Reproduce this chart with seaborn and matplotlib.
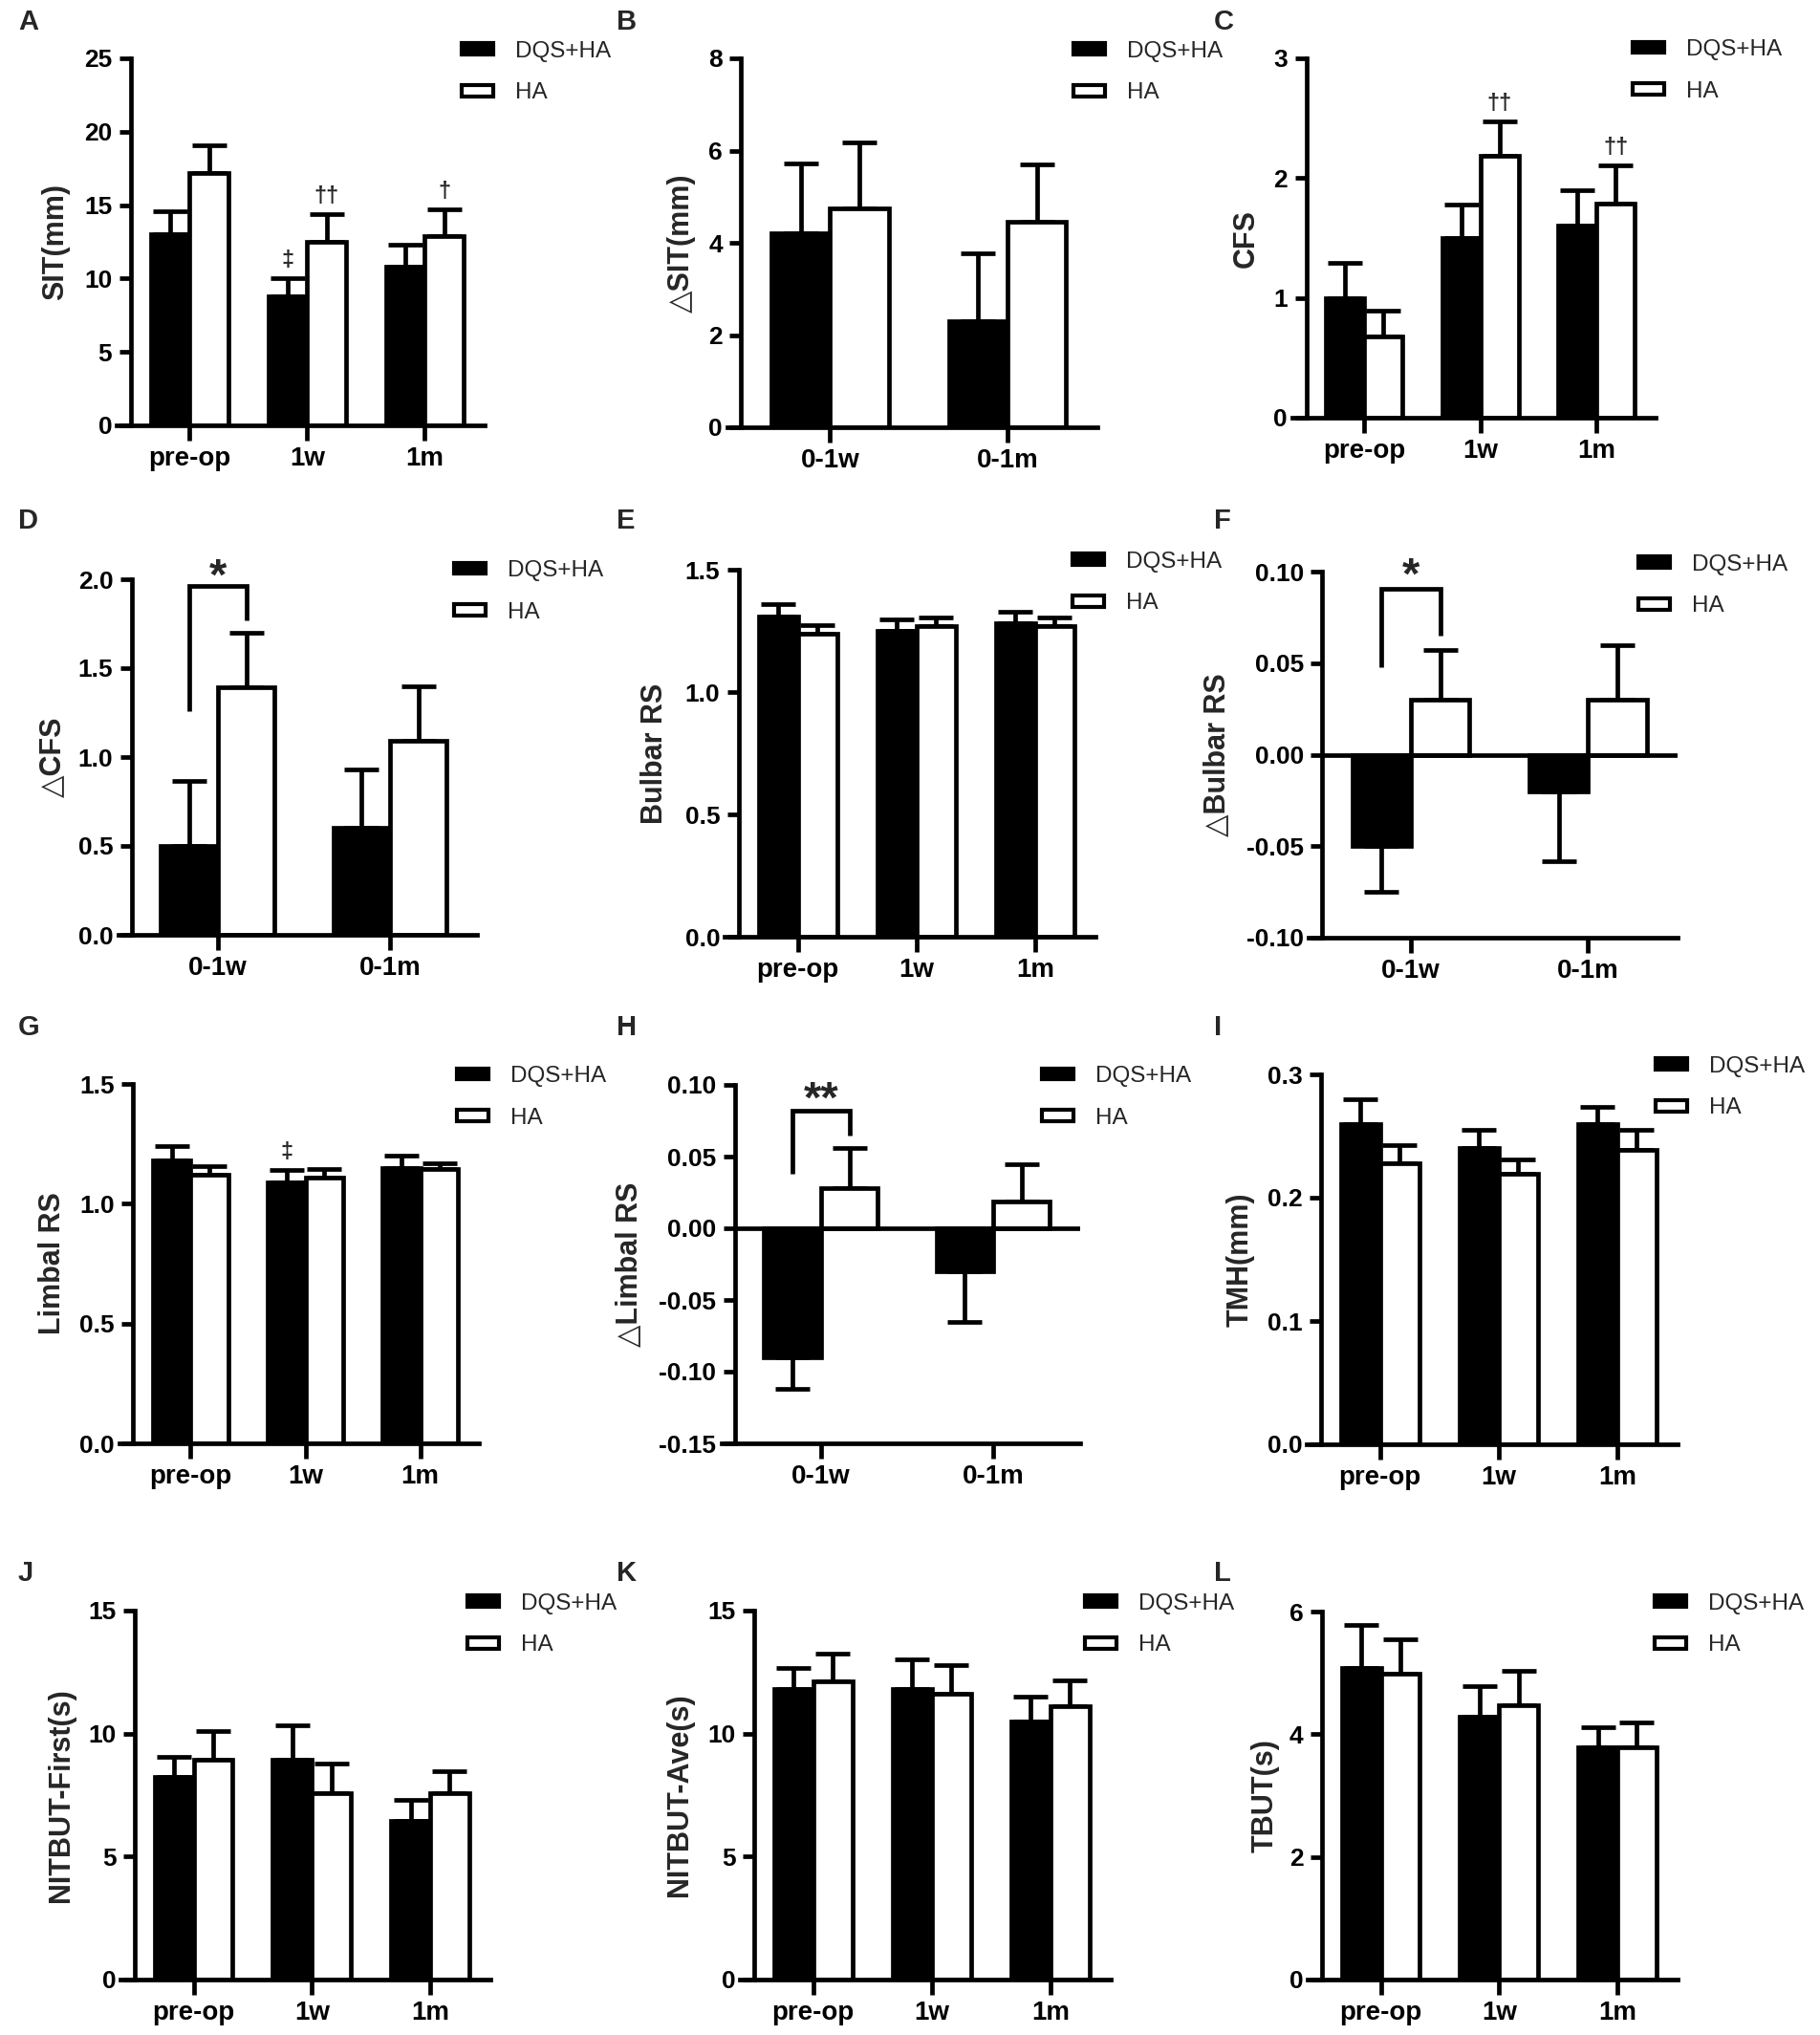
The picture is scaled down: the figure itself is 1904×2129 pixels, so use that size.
import numpy as np
import pandas as pd
import matplotlib
matplotlib.use("Agg")
import matplotlib.pyplot as plt
from matplotlib.patches import Patch
import seaborn as sns

# ---------------- data ----------------
groups = ["DQS+HA", "HA"]
times = ["pre-op", "1w", "1m"]
deltas = ["0-1w", "0-1m"]

sit_dqs = [13.0, 8.8, 10.8];      sit_dqs_err = [1.6, 1.2, 1.5]
sit_ha = [17.2, 12.5, 12.9];      sit_ha_err = [1.9, 1.9, 1.8]
dsit_dqs = [4.2, 2.3];            dsit_dqs_err = [1.53, 1.47]
dsit_ha = [4.75, 4.45];           dsit_ha_err = [1.43, 1.24]
cfs_dqs = [1.0, 1.5, 1.6];        cfs_dqs_err = [0.29, 0.28, 0.30]
cfs_ha = [0.68, 2.19, 1.79];      cfs_ha_err = [0.21, 0.28, 0.32]
dcfs_dqs = [0.5, 0.6];            dcfs_dqs_err = [0.365, 0.33]
dcfs_ha = [1.39, 1.09];           dcfs_ha_err = [0.31, 0.31]
bulbar_dqs = [1.31, 1.25, 1.28];  bulbar_dqs_err = [0.048, 0.048, 0.047]
bulbar_ha = [1.24, 1.27, 1.27];   bulbar_ha_err = [0.033, 0.033, 0.033]
dbulbar_dqs = [-0.05, -0.02];     dbulbar_dqs_err = [0.025, 0.038]
dbulbar_ha = [0.03, 0.03];        dbulbar_ha_err = [0.027, 0.030]
limbal_dqs = [1.18, 1.09, 1.15];  limbal_dqs_err = [0.06, 0.05, 0.05]
limbal_ha = [1.12, 1.11, 1.145];  limbal_ha_err = [0.035, 0.035, 0.025]
dlimbal_dqs = [-0.09, -0.03];     dlimbal_dqs_err = [0.022, 0.035]
dlimbal_ha = [0.028, 0.019];      dlimbal_ha_err = [0.028, 0.026]
tmh_dqs = [0.26, 0.24, 0.26];     tmh_dqs_err = [0.02, 0.015, 0.014]
tmh_ha = [0.228, 0.219, 0.239];   tmh_ha_err = [0.015, 0.012, 0.016]
nfirst_dqs = [8.25, 8.92, 6.45];  nfirst_dqs_err = [0.82, 1.40, 0.85]
nfirst_ha = [8.92, 7.59, 7.59];   nfirst_ha_err = [1.18, 1.19, 0.89]
nave_dqs = [11.8, 11.8, 10.48];   nave_dqs_err = [0.85, 1.2, 1.02]
nave_ha = [12.13, 11.63, 11.1];   nave_ha_err = [1.14, 1.14, 1.05]
tbut_dqs = [5.08, 4.29, 3.78];    tbut_dqs_err = [0.70, 0.49, 0.33]
tbut_ha = [4.98, 4.48, 3.78];     tbut_ha_err = [0.57, 0.55, 0.42]

ticks_sit = [0, 5, 10, 15, 20, 25]
ticks_dsit = [0, 2, 4, 6, 8]
ticks_cfs = [0, 1, 2, 3]
ticks_dcfs = [0.0, 0.5, 1.0, 1.5, 2.0]
ticks_rs = [0.0, 0.5, 1.0, 1.5]
ticks_drs_b = [-0.10, -0.05, 0.00, 0.05, 0.10]
ticks_drs_l = [-0.15, -0.10, -0.05, 0.00, 0.05, 0.10]
ticks_tmh = [0.0, 0.1, 0.2, 0.3]
ticks_nitbut = [0, 5, 10, 15]
ticks_tbut = [0, 2, 4, 6]

# ---------------- style ----------------
sns.set_style("ticks")
plt.rcParams["font.family"] = ["Liberation Sans", "DejaVu Sans"]

W, H = 1904, 2129
fig = plt.figure(figsize=(W / 100, H / 100), dpi=100)
LW = 3.4
colors = {"DQS+HA": "black", "HA": "white"}

colx = [19, 645, 1270]
rowy = [23, 545, 1075, 1646]

panels = [
    dict(L="A", lp=(colx[0], rowy[0]), rect=(122, 507, 61, 445), cats=times,
         b=sit_dqs, be=sit_dqs_err, w=sit_ha, we=sit_ha_err, ylim=(0, 25), ticks=ticks_sit, fmt="{:.0f}",
         ylabel="SIT(mm)", ylx=58, leg=(483, 75.5),
         marks=[(1, 0, "‡"), (1, 1, "††"), (2, 1, "†")]),
    dict(L="B", lp=(colx[1], rowy[0]), rect=(761, 1148, 61, 447), cats=deltas,
         b=dsit_dqs, be=dsit_dqs_err, w=dsit_ha, we=dsit_ha_err, ylim=(0, 8), ticks=ticks_dsit, fmt="{:.0f}",
         ylabel="△SIT(mm)", ylx=713, leg=(1123, 75.5)),
    dict(L="C", lp=(colx[2], rowy[0]), rect=(1352, 1732, 61, 437), cats=times,
         b=cfs_dqs, be=cfs_dqs_err, w=cfs_ha, we=cfs_ha_err, ylim=(0, 3), ticks=ticks_cfs, fmt="{:.0f}",
         ylabel="CFS", ylx=1304, leg=(1708, 74),
         marks=[(1, 1, "††"), (2, 1, "††")]),
    dict(L="D", lp=(colx[0], rowy[1]), rect=(124, 499, 606, 978), cats=deltas,
         b=dcfs_dqs, be=dcfs_dqs_err, w=dcfs_ha, we=dcfs_ha_err, ylim=(0, 2.0), ticks=ticks_dcfs, fmt="{:.1f}",
         ylabel="△CFS", ylx=55, leg=(475, 619),
         bracket=(1.257, 1.96, 1.77, 2.07, "*")),
    dict(L="E", lp=(colx[1], rowy[1]), rect=(758, 1146, 596, 980), cats=times,
         b=bulbar_dqs, be=bulbar_dqs_err, w=bulbar_ha, we=bulbar_ha_err, ylim=(0, 1.5), ticks=ticks_rs, fmt="{:.1f}",
         ylabel="Bulbar RS", ylx=685, leg=(1122, 609.5)),
    dict(L="F", lp=(colx[2], rowy[1]), rect=(1369, 1755, 598, 981), cats=deltas,
         b=dbulbar_dqs, be=dbulbar_dqs_err, w=dbulbar_ha, we=dbulbar_ha_err, ylim=(-0.10, 0.10), ticks=ticks_drs_b, fmt="{:.2f}",
         ylabel="△Bulbar RS", ylx=1273, leg=(1714, 612.5),
         bracket=(0.048, 0.0905, 0.065, 0.1029, "*")),
    dict(L="G", lp=(colx[0], rowy[2]), rect=(125, 501, 1134, 1510), cats=times,
         b=limbal_dqs, be=limbal_dqs_err, w=limbal_ha, we=limbal_ha_err, ylim=(0, 1.5), ticks=ticks_rs, fmt="{:.1f}",
         ylabel="Limbal RS", ylx=55, leg=(478, 1148),
         marks=[(1, 0, "‡")]),
    dict(L="H", lp=(colx[1], rowy[2]), rect=(755, 1130, 1135, 1510), cats=deltas,
         b=dlimbal_dqs, be=dlimbal_dqs_err, w=dlimbal_ha, we=dlimbal_ha_err, ylim=(-0.15, 0.10), ticks=ticks_drs_l, fmt="{:.2f}",
         ylabel="△Limbal RS", ylx=658, leg=(1090, 1148),
         bracket=(0.0378, 0.082, 0.065, 0.0966, "**")),
    dict(L="I", lp=(colx[2], rowy[2]), rect=(1367, 1755, 1124, 1511), cats=times,
         b=tmh_dqs, be=tmh_dqs_err, w=tmh_ha, we=tmh_ha_err, ylim=(0, 0.3), ticks=ticks_tmh, fmt="{:.1f}",
         ylabel="TMH(mm)", ylx=1298, leg=(1732, 1137.5)),
    dict(L="J", lp=(colx[0], rowy[3]), rect=(126, 513, 1685, 2071), cats=times,
         b=nfirst_dqs, be=nfirst_dqs_err, w=nfirst_ha, we=nfirst_ha_err, ylim=(0, 15), ticks=ticks_nitbut, fmt="{:.0f}",
         ylabel="NITBUT-First(s)", ylx=64, leg=(489, 1699.5)),
    dict(L="K", lp=(colx[1], rowy[3]), rect=(774, 1162, 1685, 2071), cats=times,
         b=nave_dqs, be=nave_dqs_err, w=nave_ha, we=nave_ha_err, ylim=(0, 15), ticks=ticks_nitbut, fmt="{:.0f}",
         ylabel="NITBUT-Ave(s)", ylx=711, leg=(1135, 1699.5)),
    dict(L="L", lp=(colx[2], rowy[3]), rect=(1368, 1755, 1686, 2071), cats=times,
         b=tbut_dqs, be=tbut_dqs_err, w=tbut_ha, we=tbut_ha_err, ylim=(0, 6), ticks=ticks_tbut, fmt="{:.0f}",
         ylabel="TBUT(s)", ylx=1324, leg=(1731, 1699.5)),
]


def draw(p):
    l, r, t, b = p["rect"]
    ax = fig.add_axes([l / W, 1 - b / H, (r - l) / W, (b - t) / H])
    cats = p["cats"]
    n = len(cats)
    df = pd.DataFrame({
        "time": list(cats) * 2,
        "group": [groups[0]] * n + [groups[1]] * n,
        "value": list(p["b"]) + list(p["w"]),
    })
    sns.barplot(data=df, x="time", y="value", hue="group", order=cats, hue_order=groups,
                palette=colors, saturation=1, width=0.66, errorbar=None,
                edgecolor="black", linewidth=LW, legend=False, ax=ax, zorder=2)

    # error bars (one-sided, away from zero)
    centers = []
    for gi, (vals, errs) in enumerate([(p["b"], p["be"]), (p["w"], p["we"])]):
        cont = ax.containers[gi]
        xs = [bar.get_x() + bar.get_width() / 2 for bar in cont]
        centers.append(xs)
        vals = np.asarray(vals, float)
        errs = np.asarray(errs, float)
        lower = np.where(vals < 0, errs, 0)
        upper = np.where(vals >= 0, errs, 0)
        ax.errorbar(xs, vals, yerr=[lower, upper], fmt="none", ecolor="black",
                    elinewidth=LW, capsize=13, capthick=LW, zorder=1)

    if n == 3:
        xlim = (-0.62, 2.51)
    else:
        xlim = (-0.577, 1.505)
    ax.set_xlim(*xlim)
    ax.set_ylim(*p["ylim"])
    ax.spines["left"].set_position(("data", -0.5))
    for s in ["top", "right"]:
        ax.spines[s].set_visible(False)
    for s in ["left", "bottom"]:
        ax.spines[s].set_linewidth(LW)
        ax.spines[s].set_color("black")
        ax.spines[s].set_capstyle("projecting")
    ax.set_yticks(p["ticks"], [p["fmt"].format(v) for v in p["ticks"]],
                  fontsize=19, fontweight="bold")
    ax.set_xticks(range(n), cats, fontsize=20, fontweight="bold")
    ax.tick_params(axis="y", direction="out", length=9, width=LW, pad=5, colors="black")
    ax.tick_params(axis="x", direction="out", length=11.5, width=LW, pad=4, colors="black")
    ax.set_xlabel("")
    ax.set_ylabel(p["ylabel"], fontsize=22, fontweight="bold", va="center")
    ax.yaxis.set_label_coords((p["ylx"] - l) / (r - l), 0.5)

    if p["ylim"][0] < 0:
        frac = (-0.5 - xlim[0]) / (xlim[1] - xlim[0])
        ax.axhline(0, xmin=frac, xmax=1, color="black", lw=LW, zorder=3)

    # significance marks
    for ci, gi, txt in p.get("marks", []):
        vals = p["b"] if gi == 0 else p["w"]
        errs = p["be"] if gi == 0 else p["we"]
        ax.annotate(txt, xy=(centers[gi][ci], vals[ci] + errs[ci]), xytext=(0, 5),
                    textcoords="offset points", ha="center", va="bottom",
                    fontsize=17, fontweight="bold")

    if "bracket" in p:
        yl, yt, yr, ys, star = p["bracket"]
        x0, x1 = centers[0][0], centers[1][0]
        ax.plot([x0, x0, x1, x1], [yl, yt, yt, yr], color="black", lw=LW,
                solid_joinstyle="miter", solid_capstyle="butt", clip_on=False)
        ax.annotate(star, xy=((x0 + x1) / 2, ys), xytext=(0, -17), textcoords="offset points",
                    ha="center", va="baseline", fontsize=34, fontweight="bold",
                    annotation_clip=False)

    handles = [Patch(facecolor=colors[g], edgecolor="black", linewidth=3.0) for g in groups]
    ax.legend(handles, groups, loc="center left",
              bbox_to_anchor=(p["leg"][0] / W, 1 - p["leg"][1] / H),
              bbox_transform=fig.transFigure, frameon=False, fontsize=17.5,
              handlelength=1.36, handleheight=0.36, handletextpad=0.95,
              labelspacing=0.9, borderpad=0, borderaxespad=0)

    fig.text(p["lp"][0] / W, 1 - p["lp"][1] / H, p["L"], fontsize=21,
             fontweight="bold", ha="left", va="center")


for p in panels:
    draw(p)

fig.savefig("out.png", dpi=100, facecolor="white")
